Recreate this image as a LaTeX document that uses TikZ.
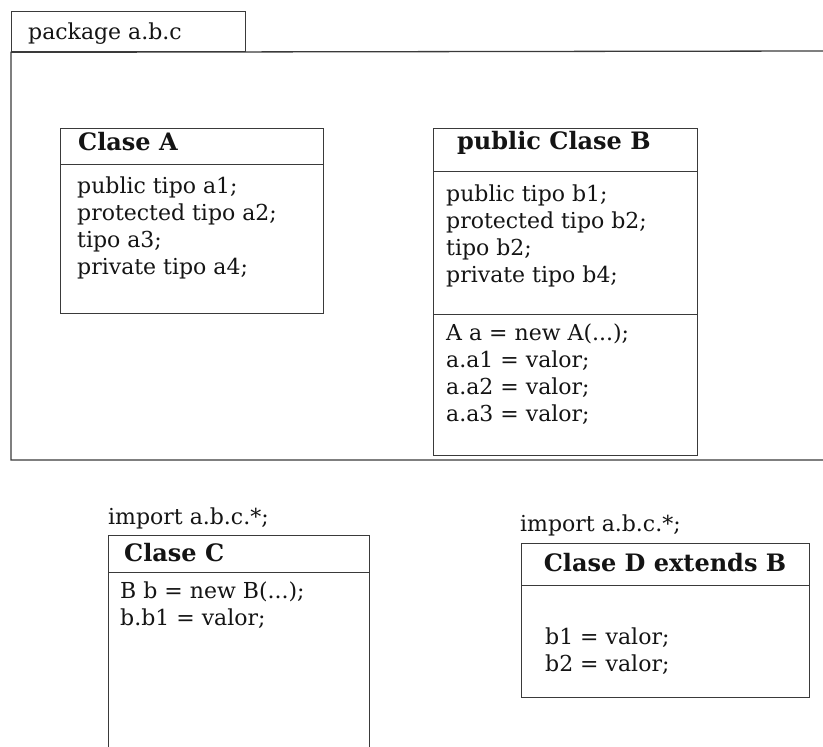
\documentclass[tikz,border=0pt]{standalone}
\usepackage{fontspec}
\setmainfont{DejaVu Serif}
\definecolor{ink}{HTML}{141414}
\definecolor{rule}{HTML}{3A3A3A}
\begin{document}
\begin{tikzpicture}[x=1pt,y=-1pt,
  pkgline/.style={draw=rule, line width=1.3pt},
  boxline/.style={draw=rule, line width=1pt},
  classbox/.style={boxline, rectangle, inner sep=0pt, anchor=north west, fill=none},
  txt/.style={anchor=base west, inner sep=0pt, text=ink, font=\fontsize{22}{27}\selectfont},
  hdr/.style={anchor=base west, inner sep=0pt, text=ink, font=\fontsize{24}{28}\selectfont\bfseries}]
\useasboundingbox (0,0) rectangle (823,747);

% package frame
\node[classbox, pkgline, minimum width=234pt, minimum height=40pt] (tab) at (11,11) {};
\coordinate (pkgTR) at (823,51);
\coordinate (pkgBR) at (823,460);
\draw[pkgline] (pkgTR) -- (tab.south west) -- (tab.south west |- pkgBR) -- (pkgBR);
\node[txt] (pkgname) at (28,39) {package a.b.c};

% Clase A
\node[classbox, minimum width=263pt, minimum height=185pt] (A) at (60,128) {};
\coordinate (Adiv) at (60,164);
\draw[boxline] (Adiv) -- (Adiv -| A.east);
\node[hdr] (Ahdr) at (78,150) {Clase A};
\node[txt] (a1) at (77,193) {public tipo a1;};
\node[txt] (a2) at (77,220) {protected tipo a2;};
\node[txt] (a3) at (77,247) {tipo a3;};
\node[txt] (a4) at (77,274) {private tipo a4;};

% Clase B
\node[classbox, minimum width=264pt, minimum height=327pt] (B) at (433,128) {};
\coordinate (Bdiv1) at (433,171);
\coordinate (Bdiv2) at (433,314);
\draw[boxline] (Bdiv1) -- (Bdiv1 -| B.east);
\draw[boxline] (Bdiv2) -- (Bdiv2 -| B.east);
\node[hdr] (Bhdr) at (457,149) {public Clase B};
\node[txt] (b1) at (446,201) {public tipo b1;};
\node[txt] (b2) at (446,228) {protected tipo b2;};
\node[txt] (b3) at (446,255) {tipo b2;};
\node[txt] (b4) at (446,282) {private tipo b4;};
\node[txt] (m1) at (446,340) {A a = new A(...);};
\node[txt] (m2) at (446,367) {a.a1 = valor;};
\node[txt] (m3) at (446,394) {a.a2 = valor;};
\node[txt] (m4) at (446,421) {a.a3 = valor;};

% Clase C (open at the bottom)
\node[txt] (impC) at (108,524) {import a.b.c.*;};
\coordinate (Ctl) at (108,535);
\coordinate (Ctr) at (369,535);
\coordinate (Cbl) at (108,747);
\coordinate (Cbr) at (369,747);
\draw[boxline] (Cbl) -- (Ctl) -- (Ctr) -- (Cbr);
\coordinate (Cdiv) at (108,572);
\draw[boxline] (Cdiv) -- (Cdiv -| Ctr);
\node[hdr] (Chdr) at (124,561) {Clase C};
\node[txt] (c1) at (120,598) {B b = new B(...);};
\node[txt] (c2) at (120,625) {b.b1 = valor;};

% Clase D
\node[txt] (impD) at (520,531) {import a.b.c.*;};
\node[classbox, minimum width=288pt, minimum height=154pt] (D) at (521,543) {};
\coordinate (Ddiv) at (521,585);
\draw[boxline] (Ddiv) -- (Ddiv -| D.east);
\node[hdr, anchor=base] (Dhdr) at (665,571) {Clase D extends B};
\node[txt] (d1) at (545,644) {b1 = valor;};
\node[txt] (d2) at (545,671) {b2 = valor;};
\end{tikzpicture}
\end{document}
